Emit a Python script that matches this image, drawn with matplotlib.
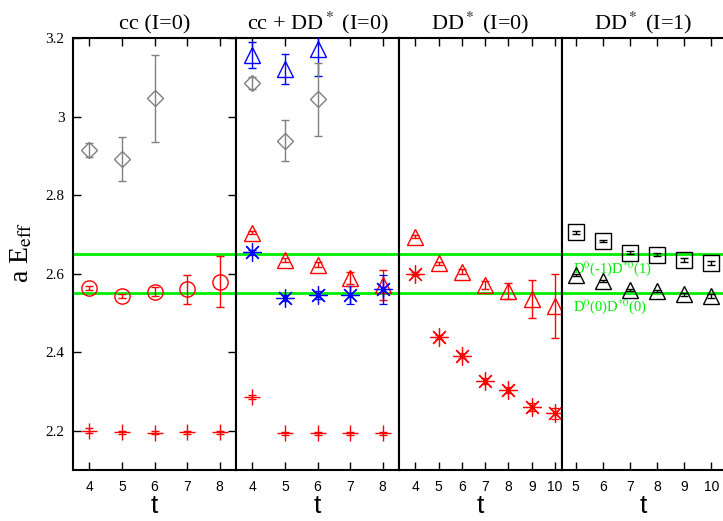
import matplotlib
matplotlib.use("Agg")
import matplotlib.pyplot as plt

plt.rcParams["font.family"] = ["Liberation Serif", "DejaVu Serif"]
plt.rcParams["mathtext.fontset"] = "stix"

# panel titles and x ranges
titulos = ["cc (I=0)", r"cc + DD$^*$ (I=0)", r"DD$^*$ (I=0)", r"DD$^*$ (I=1)"]
rangos_t = [(3.5, 8.5), (3.5, 8.5), (3.3, 10.3), (4.5, 10.5)]
ticks_t = [[4, 5, 6, 7, 8], [4, 5, 6, 7, 8], [4, 5, 6, 7, 8, 9, 10], [5, 6, 7, 8, 9, 10]]

# green threshold lines
umbrales = [2.65, 2.55]
etiquetas_umbral = [r"D$^0$(-1)D$^{*0}$(1)", r"D$^0$(0)D$^{*0}$(0)"]

# panel 1: cc (I=0)
p1_diam_t = [4, 5, 6]
p1_diam_y = [2.915, 2.892, 3.046]
p1_diam_e = [0.018, 0.056, 0.110]
p1_circ_t = [4, 5, 6, 7, 8]
p1_circ_y = [2.564, 2.543, 2.554, 2.560, 2.579]
p1_circ_e = [0.005, 0.006, 0.012, 0.037, 0.065]
p1_plus_t = [4, 5, 6, 7, 8]
p1_plus_y = [2.200, 2.196, 2.195, 2.196, 2.196]
p1_plus_e = [0.006, 0.004, 0.004, 0.004, 0.004]

# panel 2: cc + DD* (I=0)
p2_tri_azul_t = [4, 5, 6]
p2_tri_azul_y = [3.157, 3.121, 3.172]
p2_tri_azul_e = [0.033, 0.037, 0.068]
p2_diam_t = [4, 5, 6]
p2_diam_y = [3.085, 2.938, 3.044]
p2_diam_e = [0.016, 0.052, 0.093]
p2_tri_rojo_t = [4, 5, 6, 7, 8]
p2_tri_rojo_y = [2.704, 2.634, 2.623, 2.589, 2.572]
p2_tri_rojo_e = [0.004, 0.005, 0.006, 0.016, 0.038]
p2_estr_t = [4, 5, 6, 7, 8]
p2_estr_y = [2.654, 2.538, 2.545, 2.545, 2.560]
p2_estr_e = [0.006, 0.008, 0.010, 0.023, 0.037]
p2_plus_t = [4, 5, 6, 7, 8]
p2_plus_y = [2.285, 2.194, 2.194, 2.194, 2.194]
p2_plus_e = [0.005, 0.004, 0.004, 0.004, 0.004]

# panel 3: DD* (I=0)
p3_tri_t = [4, 5, 6, 7, 8, 9, 10]
p3_tri_y = [2.694, 2.626, 2.605, 2.571, 2.556, 2.535, 2.517]
p3_tri_e = [0.004, 0.004, 0.006, 0.010, 0.021, 0.049, 0.082]
p3_estr_t = [4, 5, 6, 7, 8, 9, 10]
p3_estr_y = [2.600, 2.439, 2.391, 2.327, 2.303, 2.261, 2.244]
p3_estr_e = [0.004, 0.005, 0.006, 0.007, 0.008, 0.010, 0.015]

# panel 4: DD* (I=1)
p4_cuad_t = [5, 6, 7, 8, 9, 10]
p4_cuad_y = [2.705, 2.683, 2.653, 2.648, 2.634, 2.626]
p4_cuad_e = [0.003, 0.003, 0.004, 0.004, 0.005, 0.005]
p4_tri_t = [5, 6, 7, 8, 9, 10]
p4_tri_y = [2.596, 2.581, 2.558, 2.556, 2.547, 2.543]
p4_tri_e = [0.003, 0.003, 0.003, 0.003, 0.004, 0.004]

asterisco = (8, 2, 0)


def serie(ax, t, y, e, color, marker, ms=10, mew=1.0):
    ax.errorbar(t, y, yerr=e, linestyle="none", marker=marker, color=color, ecolor=color,
                mfc="none", mec=color, ms=ms, mew=mew, elinewidth=1.0, capsize=3,
                capthick=1.0, zorder=3)


fig, axes = plt.subplots(1, 4, figsize=(7.23, 5.21), dpi=100, sharey=True)
fig.subplots_adjust(left=73 / 723, right=725 / 723, top=1 - 38 / 521,
                    bottom=1 - 470 / 521, wspace=0)

for i, ax in enumerate(axes):
    ax.set_xlim(*rangos_t[i])
    ax.set_ylim(2.1, 3.2)
    ax.set_xticks(ticks_t[i])
    ax.set_xticklabels([str(v) for v in ticks_t[i]], family="Liberation Sans", fontsize=10)
    ax.tick_params(axis="x", direction="in", top=True, bottom=True, length=6, width=1, pad=7)
    ax.set_title(titulos[i], fontsize=16, pad=6)
    ax.set_xlabel("t", fontsize=19, family="Liberation Sans", labelpad=0)
    for s in ax.spines.values():
        s.set_linewidth(1.5)
    for u in umbrales:
        ax.axhline(u, color="#00ee00", lw=2, zorder=2)
    if i == 0:
        ax.set_yticks([2.2, 2.4, 2.6, 2.8, 3.0, 3.2])
        ax.set_yticklabels(["2.2", "2.4", "2.6", "2.8", "3", "3.2"], fontsize=11)
        ax.tick_params(axis="y", direction="in", left=True, right=True, length=6, width=1, pad=6)
    else:
        ax.tick_params(axis="y", left=False, right=False)

ax1, ax2, ax3, ax4 = axes

serie(ax1, p1_diam_t, p1_diam_y, p1_diam_e, "gray", "D", ms=8)
serie(ax1, p1_circ_t, p1_circ_y, p1_circ_e, "red", "o", ms=11)
serie(ax1, p1_plus_t, p1_plus_y, p1_plus_e, "red", "+", ms=11)

serie(ax2, p2_tri_azul_t, p2_tri_azul_y, p2_tri_azul_e, "blue", "^", ms=11)
serie(ax2, p2_diam_t, p2_diam_y, p2_diam_e, "gray", "D", ms=8)
serie(ax2, p2_tri_rojo_t, p2_tri_rojo_y, p2_tri_rojo_e, "red", "^", ms=11)
serie(ax2, p2_estr_t, p2_estr_y, p2_estr_e, "blue", asterisco, ms=13, mew=0.9)
serie(ax2, p2_plus_t, p2_plus_y, p2_plus_e, "red", "+", ms=11)

serie(ax3, p3_tri_t, p3_tri_y, p3_tri_e, "red", "^", ms=11)
serie(ax3, p3_estr_t, p3_estr_y, p3_estr_e, "red", asterisco, ms=13, mew=0.9)

serie(ax4, p4_cuad_t, p4_cuad_y, p4_cuad_e, "black", "s", ms=11)
serie(ax4, p4_tri_t, p4_tri_y, p4_tri_e, "black", "^", ms=11)

ax4.text(4.92, umbrales[0] - 0.036, etiquetas_umbral[0], color="#00ee00", fontsize=10.5, va="center")
ax4.text(4.92, umbrales[1] - 0.035, etiquetas_umbral[1], color="#00ee00", fontsize=10.5, va="center")

fig.text(22 / 723, 1 - 252 / 521, r"a E$_{\mathrm{eff}}$", rotation=90, fontsize=20,
         ha="center", va="center")

fig.savefig("out.png", dpi=100)
